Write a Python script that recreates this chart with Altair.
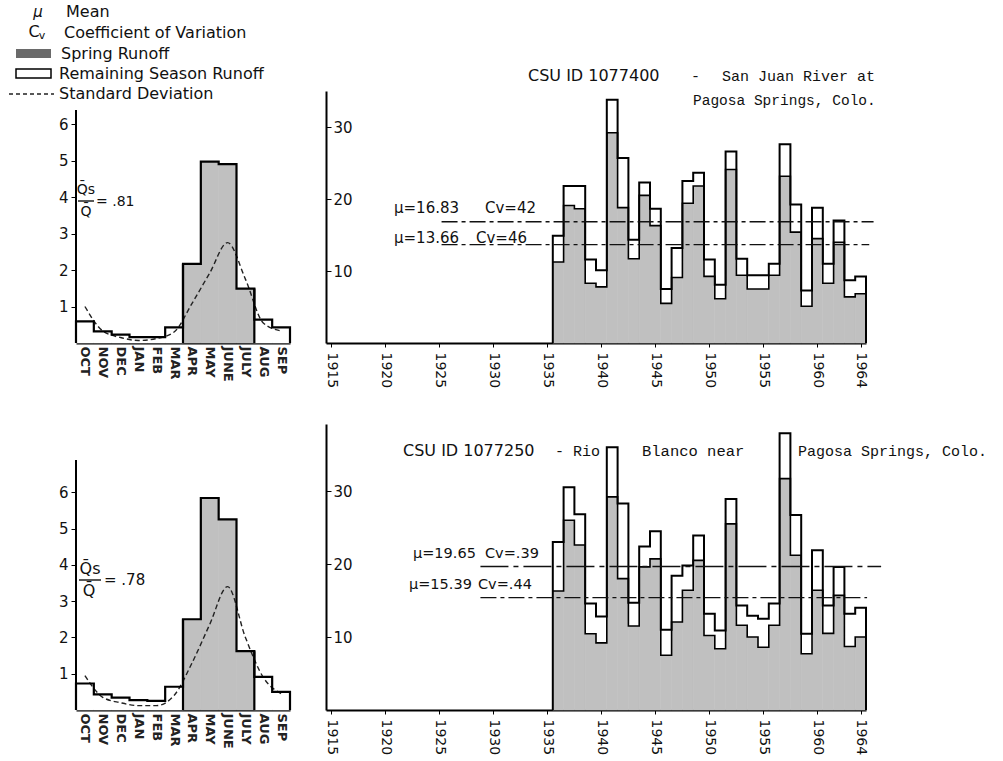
import altair as alt
import pandas as pd

SANS = "DejaVu Sans"
MONO = "Liberation Mono"
GRAY = "#c0c0c0"

# ---------------- data ----------------
years = list(range(1936, 1965))

sj_total = [14.9, 21.8, 21.8, 11.6, 10.1, 33.8, 25.7, 14.35, 22.3, 18.65, 7.5, 13.2, 22.5, 23.65, 11.6,
            8.1, 26.6, 11.7, 9.4, 9.4, 11.0, 27.6, 19.25, 7.3, 18.8, 11.0, 17.0, 8.7, 9.25]
sj_spring = [11.25, 19.1, 18.65, 8.3, 7.8, 29.2, 18.8, 11.7, 20.5, 16.3, 5.5, 9.1, 19.4, 21.8, 9.25,
             6.15, 24.1, 9.4, 7.5, 7.5, 9.4, 23.15, 15.4, 5.1, 14.5, 8.3, 14.0, 6.4, 6.85]

rb_total = [23.0, 30.5, 26.8, 14.6, 12.8, 36.0, 28.3, 14.7, 22.4, 24.5, 11.0, 18.4, 19.8, 23.9, 13.2,
            10.9, 28.9, 14.3, 12.9, 12.5, 14.6, 37.9, 26.7, 10.45, 21.9, 14.3, 19.6, 13.2, 14.0]
rb_spring = [16.3, 26.0, 22.6, 10.45, 9.2, 29.2, 18.0, 11.5, 19.6, 20.7, 7.5, 12.05, 16.4, 20.5, 10.2,
             8.4, 25.5, 11.6, 10.0, 8.6, 11.6, 31.7, 21.2, 7.7, 16.4, 10.5, 15.7, 8.7, 10.0]

months = ["OCT", "NOV", "DEC", "JAN", "FEB", "MAR", "APR", "MAY", "JUNE", "JULY", "AUG", "SEP"]
spring_months = ["APR", "MAY", "JUNE", "JULY"]
sj_month = [0.59, 0.32, 0.23, 0.16, 0.16, 0.43, 2.17, 4.97, 4.9, 1.49, 0.64, 0.43]
sj_sd = [1.0, 0.33, 0.15, 0.07, 0.12, 0.3, 1.08, 1.92, 2.75, 1.75, 0.55, 0.33]
rb_month = [0.73, 0.43, 0.34, 0.27, 0.25, 0.64, 2.5, 5.84, 5.25, 1.62, 0.91, 0.5]
rb_sd = [0.95, 0.35, 0.2, 0.12, 0.12, 0.4, 1.29, 2.36, 3.4, 2.0, 0.9, 0.45]

year_ticks = [1915, 1920, 1925, 1930, 1935, 1940, 1945, 1950, 1955, 1960, 1964]
annual_y_ticks = [10, 20, 30]
month_y_ticks = [1, 2, 3, 4, 5, 6]

sj_means = [16.83, 13.66]
rb_means = [19.65, 15.39]

ONE = pd.DataFrame({"a": [0]})
NOVIEW = alt.ViewBackground(strokeWidth=0, strokeOpacity=0)


def txt(s, x, y, origin, size=15, font=SANS, align="left", style="normal", color="#111"):
    return alt.Chart(ONE).mark_text(
        text=s, font=font, fontSize=size, align=align, baseline="middle",
        fontStyle=style, color=color
    ).encode(x=alt.value(x - origin[0]), y=alt.value(y - origin[1]))


def step_path(xs_left, width, vals, close=True):
    rows = []
    if close:
        rows.append({"x": xs_left[0], "y": 0.0})
    for xl, v in zip(xs_left, vals):
        rows.append({"x": xl, "y": v})
        rows.append({"x": xl + width, "y": v})
    if close:
        rows.append({"x": xs_left[-1] + width, "y": 0.0})
    df = pd.DataFrame(rows)
    df["o"] = range(len(df))
    return df


def annual_panel(total, spring, height, ymax, means, dashes, mean_x, texts, origin):
    xsc = alt.Scale(domain=[1914.5, 1964.5], nice=False, zero=False)
    ysc = alt.Scale(domain=[0, ymax], nice=False)
    xax = alt.Axis(values=year_ticks, labelAngle=90, labelAlign="left", labelBaseline="middle",
                   labelFont=SANS, labelFontSize=14, labelColor="#111", labelPadding=5,
                   tickSize=4, tickColor="black", domainColor="black", domainWidth=2,
                   grid=False, title=None, format="d")
    yax = alt.Axis(values=annual_y_ticks, orient="right", offset=-540, labelFont=SANS,
                   labelFontSize=15, labelColor="#111", labelPadding=2, tickSize=5,
                   tickColor="black", domainColor="black", domainWidth=2, grid=False, title=None)
    df = pd.DataFrame({"year": years, "total": total, "spring": spring})
    df["x0"] = df["year"] - 0.5
    df["x1"] = df["year"] + 0.5
    df["zero"] = 0.0
    base = alt.Chart(df)
    srect = base.mark_rect(color=GRAY, stroke=GRAY, strokeWidth=0.6).encode(
        x=alt.X("x0:Q", scale=xsc, axis=xax), x2="x1:Q",
        y=alt.Y("zero:Q", scale=ysc, axis=yax), y2="spring:Q")
    wrect = base.mark_rect(color="white").encode(
        x=alt.X("x0:Q", scale=xsc, axis=xax), x2="x1:Q",
        y=alt.Y("spring:Q", scale=ysc, axis=yax), y2="total:Q")
    xl = [y - 0.5 for y in years]
    tline = alt.Chart(step_path(xl, 1.0, total)).mark_line(
        color="black", strokeWidth=2, strokeJoin="miter").encode(
        x=alt.X("x:Q", scale=xsc, axis=xax), y=alt.Y("y:Q", scale=ysc, axis=yax), order="o:Q")
    sline = alt.Chart(step_path(xl, 1.0, spring, close=False)).mark_line(
        color="black", strokeWidth=1.6, strokeJoin="miter").encode(
        x=alt.X("x:Q", scale=xsc, axis=xax), y=alt.Y("y:Q", scale=ysc, axis=yax), order="o:Q")
    layers = [srect, wrect, sline, tline]
    for mu, dash, (xa, xb) in zip(means, dashes, mean_x):
        mdf = pd.DataFrame({"mu": [mu], "xa": [xa], "xb": [xb]})
        layers.append(alt.Chart(mdf).mark_rule(color="#111", strokeWidth=1.4, strokeDash=dash).encode(
            x=alt.X("xa:Q", scale=xsc, axis=xax), x2="xb:Q",
            y=alt.Y("mu:Q", scale=ysc, axis=yax)))
    for t in texts:
        layers.append(txt(*t[:3], origin, **(t[3] if len(t) > 3 else {})))
    return alt.layer(*layers).properties(width=540, height=height, view=NOVIEW)


def monthly_panel(vals, sd, height, ymax, axis_top, texts, origin, extra=()):
    xsc = alt.Scale(domain=[0, 12], nice=False, zero=False)
    ysc = alt.Scale(domain=[0, ymax], nice=False)
    label_expr = "[" + ",".join("'%s'" % m for m in months) + "][floor(datum.value)]"
    xax = alt.Axis(values=[i + 0.5 for i in range(12)], labelExpr=label_expr, labelAngle=90,
                   labelAlign="left", labelBaseline="middle", labelFont=SANS, labelFontSize=13,
                   labelFontWeight="bold", labelColor="#222", labelPadding=3, ticks=False,
                   domainColor="black", domainWidth=2, grid=False, title=None)
    yax = alt.Axis(values=month_y_ticks, domain=False, labelFont=SANS, labelFontSize=15,
                   labelColor="#111", labelPadding=3, tickSize=5, tickColor="black",
                   grid=False, title=None)
    df = pd.DataFrame({"m": months, "v": vals, "sd": sd})
    df["x0"] = list(range(12))
    df["x1"] = df["x0"] + 1
    df["xc"] = df["x0"] + 0.5
    df["zero"] = 0.0
    df["kind"] = ["spring" if m in spring_months else "other" for m in months]
    base = alt.Chart(df)
    rect = base.mark_rect(strokeWidth=0.6).encode(
        x=alt.X("x0:Q", scale=xsc, axis=xax), x2="x1:Q",
        y=alt.Y("zero:Q", scale=ysc, axis=yax), y2="v:Q",
        fill=alt.Fill("kind:N", scale=alt.Scale(domain=["spring", "other"], range=[GRAY, "white"]),
                      legend=None),
        stroke=alt.Stroke("kind:N", scale=alt.Scale(domain=["spring", "other"], range=[GRAY, "white"]),
                          legend=None))
    step = alt.Chart(step_path(list(range(12)), 1.0, vals)).mark_line(
        color="black", strokeWidth=2.2, strokeJoin="miter").encode(
        x=alt.X("x:Q", scale=xsc, axis=xax), y=alt.Y("y:Q", scale=ysc, axis=yax), order="o:Q")
    si = months.index(spring_months[0])
    ei = months.index(spring_months[-1])
    edges = pd.DataFrame({"x": [si, ei + 1], "y0": [0.0, 0.0], "y1": [vals[si], vals[ei]]})
    erule = alt.Chart(edges).mark_rule(color="black", strokeWidth=2.2).encode(
        x=alt.X("x:Q", scale=xsc, axis=xax), y=alt.Y("y0:Q", scale=ysc, axis=yax), y2="y1:Q")
    sdl = base.mark_line(color="#222", strokeWidth=1.4, strokeDash=[5, 3], interpolate="monotone").encode(
        x=alt.X("xc:Q", scale=xsc, axis=xax), y=alt.Y("sd:Q", scale=ysc, axis=yax))
    yline = pd.DataFrame({"x": [0.0], "y0": [0.0], "y1": [axis_top]})
    yrule = alt.Chart(yline).mark_rule(color="black", strokeWidth=2).encode(
        x=alt.X("x:Q", scale=xsc, axis=xax), y=alt.Y("y0:Q", scale=ysc, axis=yax), y2="y1:Q")
    layers = [rect, sdl, step, erule, yrule]
    for t in texts:
        layers.append(txt(*t[:3], origin, **(t[3] if len(t) > 3 else {})))
    layers.extend(extra)
    return alt.layer(*layers).properties(width=214, height=height, view=NOVIEW)


# ---------------- panels ----------------
TL = (75, 94)
TR = (325, 94)
BL = (75, 427)
BR = (325, 427)

legend_marks = [
    alt.Chart(ONE).mark_rect(color="#6a6a6a").encode(
        x=alt.value(15 - TL[0]), x2=alt.value(50 - TL[0]), y=alt.value(52 - TL[1]), y2=alt.value(61 - TL[1])),
    alt.Chart(ONE).mark_rect(fill="white", stroke="black", strokeWidth=1.5).encode(
        x=alt.value(15 - TL[0]), x2=alt.value(50 - TL[0]), y=alt.value(72 - TL[1]), y2=alt.value(81 - TL[1])),
    alt.Chart(ONE).mark_rule(color="#222", strokeWidth=1.4, strokeDash=[4, 3]).encode(
        x=alt.value(8 - TL[0]), x2=alt.value(53 - TL[0]), y=alt.value(97 - TL[1])),
    alt.Chart(ONE).mark_rule(color="#111", strokeWidth=1.4).encode(
        x=alt.value(77 - TL[0]), x2=alt.value(93 - TL[0]), y=alt.value(204 - TL[1])),
]
legend_texts = [
    ("μ", 37, 15, {"style": "italic", "align": "center", "size": 15}),
    ("Mean", 65, 15, {"size": 16}),
    ("C", 33, 35, {"align": "center", "size": 16}),
    ("v", 41, 39, {"align": "center", "size": 11}),
    ("Coefficient of Variation", 63, 36, {"size": 16}),
    ("Spring  Runoff", 60, 57, {"size": 16}),
    ("Remaining  Season  Runoff", 58, 77, {"size": 16}),
    ("Standard  Deviation", 58, 97, {"size": 16}),
    ("Q\u0304s", 85, 193, {"align": "center", "size": 14}),
    ("Q\u0304", 85, 215, {"align": "center", "size": 14}),
    ("= .81", 95, 205, {"size": 14}),
]
tl = monthly_panel(sj_month, sj_sd, 252, 252 / 36.5, (345 - 112) / 36.5, legend_texts, TL, legend_marks)

bl_marks = [
    alt.Chart(ONE).mark_rule(color="#111", strokeWidth=1.4).encode(
        x=alt.value(78 - BL[0]), x2=alt.value(100 - BL[0]), y=alt.value(583 - BL[1])),
]
bl_texts = [
    ("Q\u0304s", 89, 572, {"align": "center", "size": 16}),
    ("Q\u0304", 88, 594, {"align": "center", "size": 16}),
    ("= .78", 103, 583, {"size": 15}),
]
bl = monthly_panel(rb_month, rb_sd, 286, 286 / 36.3, (713 - 463) / 36.3, bl_texts, BL, bl_marks)

tr_texts = [
    ("CSU ID 1077400", 527, 79, {"size": 16}),
    ("-", 690, 79, {"font": MONO, "size": 15}),
    ("San Juan River at", 874, 79, {"font": MONO, "size": 15, "align": "right"}),
    ("Pagosa Springs, Colo.", 692, 104, {"font": MONO, "size": 14.5}),
    ("μ=16.83", 393, 211, {"size": 15}),
    ("Cv=42", 484, 211, {"size": 15}),
    ("μ=13.66", 393, 241, {"size": 15}),
    ("Cv=46", 475, 241, {"size": 15}),
]
tr = annual_panel(sj_total, sj_spring, 252, 35, sj_means, [[16, 4, 4, 4], [16, 4, 4, 4]],
                  [(1925.2, 1965.2), (1925.2, 1964.8)], tr_texts, TR)

br_texts = [
    ("CSU ID 1077250", 402, 454, {"size": 16}),
    ("- Rio", 554, 454, {"font": MONO, "size": 15}),
    ("Blanco near", 641, 454, {"font": MONO, "size": 15.5}),
    ("Pagosa Springs, Colo.", 797, 454, {"font": MONO, "size": 15}),
    ("μ=19.65", 412, 557, {"size": 14.5}),
    ("Cv=.39", 484, 557, {"size": 14.5}),
    ("μ=15.39", 408, 588, {"size": 14.5}),
    ("Cv=.44", 477, 588, {"size": 14.5}),
]
br = annual_panel(rb_total, rb_spring, 286, 286 / 7.3, rb_means, [[28, 5, 5, 5], [16, 4, 4, 4]],
                  [(1928.8, 1965.9), (1928.8, 1964.6)], br_texts, BR)

chart = alt.concat(
    tl, tr, bl, br, columns=2, spacing={"row": 81, "column": 36}, bounds="flush", align="each"
).properties(
    padding={"left": 8, "top": 4, "right": 5, "bottom": 5}
).configure_view(strokeWidth=0, strokeOpacity=0).configure(background="white")

chart.save("out.html", embed_options={"renderer": "svg", "actions": False})
